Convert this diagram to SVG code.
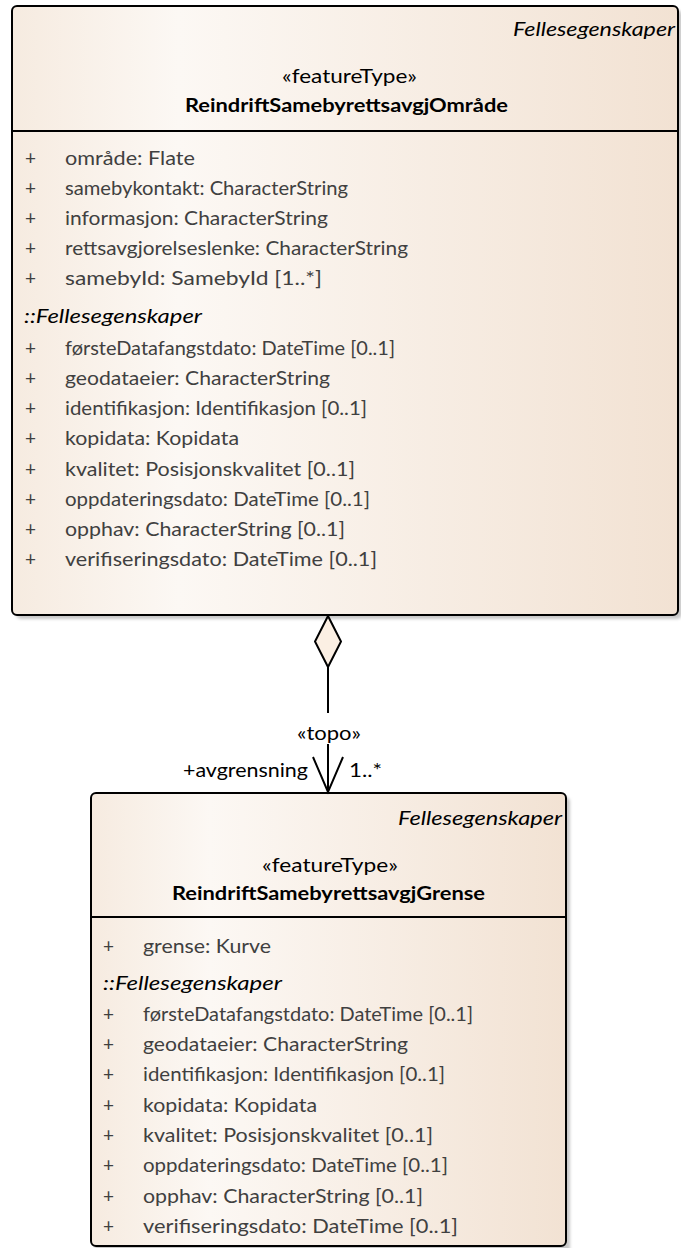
<svg xmlns="http://www.w3.org/2000/svg" width="681" height="1248" viewBox="0 0 681 1248">
<defs>
<linearGradient id="fill" x1="0" y1="0" x2="1" y2="0">
<stop offset="0" stop-color="#f6ebe0"/>
<stop offset="0.25" stop-color="#fcf8f4"/>
<stop offset="1" stop-color="#f2e2d3"/>
</linearGradient>
<filter id="sh" x="-5%" y="-5%" width="110%" height="110%"><feGaussianBlur stdDeviation="1.5"/></filter>
</defs>
<style>
text{font-family:Lato,"Liberation Sans",sans-serif;font-size:19px;fill:#000}
.box{fill:url(#fill);stroke:#000;stroke-width:2}
.shadow{fill:#c8c8c8;filter:url(#sh)}
.div{stroke:#000;stroke-width:2}
.at{fill:#404040}
.it{font-style:italic}
.b{font-weight:bold}
.conn{stroke:#000;stroke-width:2;fill:none}
</style>
<rect width="681" height="1248" fill="#fff"/>
<g id="ReindriftSamebyrettsavgjOmrade">
<rect class="shadow" x="16" y="10" width="666" height="609" rx="5"/>
<rect class="box" x="12" y="6" width="666" height="609" rx="5"/>
<line class="div" x1="12" y1="131" x2="678" y2="131"/>
<text class="it" x="675" y="36" text-anchor="end" textLength="162" lengthAdjust="spacingAndGlyphs">Fellesegenskaper</text>
<text x="282" y="83" textLength="135" lengthAdjust="spacingAndGlyphs">«featureType»</text>
<text class="b" x="185" y="112" textLength="323" lengthAdjust="spacingAndGlyphs">ReindriftSamebyrettsavgjOmråde</text>
<g class="at">
<text class="at" x="25" y="165">+</text><text class="at" x="65" y="165" textLength="130" lengthAdjust="spacingAndGlyphs">område: Flate</text>
<text class="at" x="25" y="195">+</text><text class="at" x="65" y="195" textLength="283" lengthAdjust="spacingAndGlyphs">samebykontakt: CharacterString</text>
<text class="at" x="25" y="225">+</text><text class="at" x="65" y="225" textLength="263" lengthAdjust="spacingAndGlyphs">informasjon: CharacterString</text>
<text class="at" x="25" y="255">+</text><text class="at" x="65" y="255" textLength="343" lengthAdjust="spacingAndGlyphs">rettsavgjorelseslenke: CharacterString</text>
<text class="at" x="25" y="285">+</text><text class="at" x="65" y="285" textLength="257" lengthAdjust="spacingAndGlyphs">samebyId: SamebyId [1..*]</text>
</g>
<text class="it" x="24" y="323" textLength="178" lengthAdjust="spacingAndGlyphs">::Fellesegenskaper</text>
<text class="at" x="25" y="355">+</text><text class="at" x="65" y="355" textLength="330" lengthAdjust="spacingAndGlyphs">førsteDatafangstdato: DateTime [0..1]</text>
<text class="at" x="25" y="385">+</text><text class="at" x="65" y="385" textLength="265" lengthAdjust="spacingAndGlyphs">geodataeier: CharacterString</text>
<text class="at" x="25" y="415">+</text><text class="at" x="65" y="415" textLength="302" lengthAdjust="spacingAndGlyphs">identifikasjon: Identifikasjon [0..1]</text>
<text class="at" x="25" y="445">+</text><text class="at" x="65" y="445" textLength="174" lengthAdjust="spacingAndGlyphs">kopidata: Kopidata</text>
<text class="at" x="25" y="476">+</text><text class="at" x="65" y="476" textLength="290" lengthAdjust="spacingAndGlyphs">kvalitet: Posisjonskvalitet [0..1]</text>
<text class="at" x="25" y="506">+</text><text class="at" x="65" y="506" textLength="305" lengthAdjust="spacingAndGlyphs">oppdateringsdato: DateTime [0..1]</text>
<text class="at" x="25" y="536">+</text><text class="at" x="65" y="536" textLength="280" lengthAdjust="spacingAndGlyphs">opphav: CharacterString [0..1]</text>
<text class="at" x="25" y="566">+</text><text class="at" x="65" y="566" textLength="312" lengthAdjust="spacingAndGlyphs">verifiseringsdato: DateTime [0..1]</text>
</g>
<g id="ReindriftSamebyrettsavgjGrense">
<rect class="shadow" x="95" y="797" width="475" height="460" rx="5"/>
<rect class="box" x="91" y="793" width="475" height="453" rx="5"/>
<line class="div" x1="91" y1="917" x2="566" y2="917"/>
<text class="it" x="562" y="825" text-anchor="end" textLength="164" lengthAdjust="spacingAndGlyphs">Fellesegenskaper</text>
<text x="262" y="872" textLength="136" lengthAdjust="spacingAndGlyphs">«featureType»</text>
<text class="b" x="172" y="900" textLength="313" lengthAdjust="spacingAndGlyphs">ReindriftSamebyrettsavgjGrense</text>
<text class="at" x="103" y="953">+</text><text class="at" x="143" y="953" textLength="128" lengthAdjust="spacingAndGlyphs">grense: Kurve</text>
<text class="it" x="103" y="990" textLength="179" lengthAdjust="spacingAndGlyphs">::Fellesegenskaper</text>
<text class="at" x="103" y="1021">+</text><text class="at" x="143" y="1021" textLength="330" lengthAdjust="spacingAndGlyphs">førsteDatafangstdato: DateTime [0..1]</text>
<text class="at" x="103" y="1051">+</text><text class="at" x="143" y="1051" textLength="265" lengthAdjust="spacingAndGlyphs">geodataeier: CharacterString</text>
<text class="at" x="103" y="1081">+</text><text class="at" x="143" y="1081" textLength="302" lengthAdjust="spacingAndGlyphs">identifikasjon: Identifikasjon [0..1]</text>
<text class="at" x="103" y="1112">+</text><text class="at" x="143" y="1112" textLength="174" lengthAdjust="spacingAndGlyphs">kopidata: Kopidata</text>
<text class="at" x="103" y="1142">+</text><text class="at" x="143" y="1142" textLength="290" lengthAdjust="spacingAndGlyphs">kvalitet: Posisjonskvalitet [0..1]</text>
<text class="at" x="103" y="1172">+</text><text class="at" x="143" y="1172" textLength="305" lengthAdjust="spacingAndGlyphs">oppdateringsdato: DateTime [0..1]</text>
<text class="at" x="103" y="1203">+</text><text class="at" x="143" y="1203" textLength="280" lengthAdjust="spacingAndGlyphs">opphav: CharacterString [0..1]</text>
<text class="at" x="103" y="1233">+</text><text class="at" x="143" y="1233" textLength="315" lengthAdjust="spacingAndGlyphs">verifiseringsdato: DateTime [0..1]</text>
</g>
<g id="connectors">
<path class="conn" d="M328,667 V713 M328,744 V792"/>
<polygon points="328,616 341,641.5 328,667 315,641.5" fill="#fbefe3" stroke="#000" stroke-width="2"/>
<path class="conn" d="M313,757 L328,792 L343,757"/>
<text x="329" y="740" text-anchor="middle" textLength="64" lengthAdjust="spacingAndGlyphs">«topo»</text>
<text x="183" y="777" textLength="125" lengthAdjust="spacingAndGlyphs">+avgrensning</text>
<text x="349" y="777" textLength="33" lengthAdjust="spacingAndGlyphs">1..*</text>
</g>
</svg>
